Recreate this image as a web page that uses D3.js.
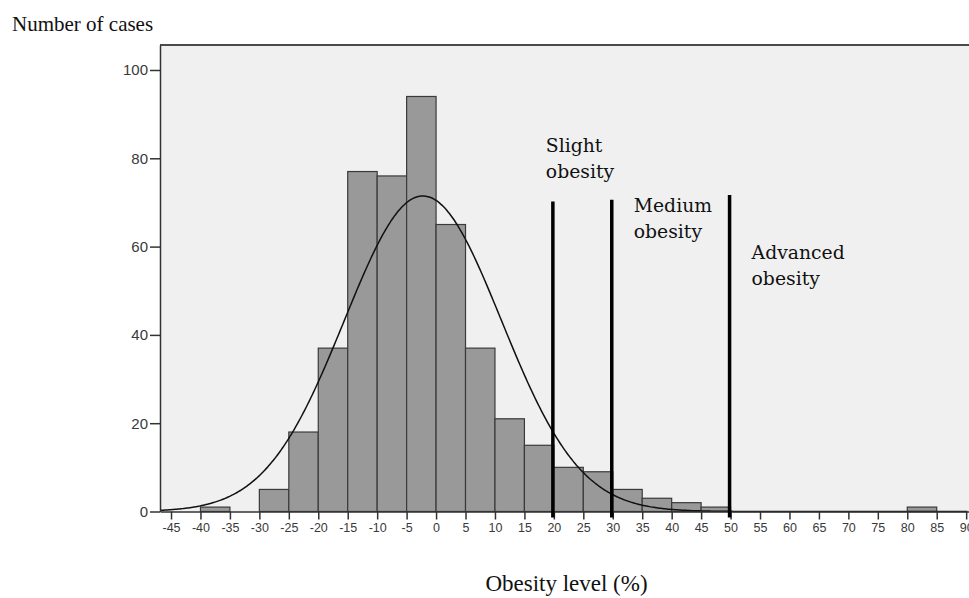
<!DOCTYPE html>
<html>
<head>
<meta charset="utf-8">
<script src="https://cdn.jsdelivr.net/npm/d3@7"></script>
<style>
  html, body { margin: 0; padding: 0; background: #ffffff; }
  svg { display: block; }
</style>
</head>
<body>
<svg id="chart" width="969" height="598"></svg>
<script>
// Histogram of obesity level (%) — bins are 5 points wide
const binStarts = [-40, -30, -25, -20, -15, -10, -5, 0, 5, 10, 15, 20, 25, 30, 35, 40, 45, 80];
const binCounts = [1, 5, 18, 37, 77, 76, 94, 65, 37, 21, 15, 10, 9, 5, 3, 2, 1, 1];
const binWidth = 5;

// Axis ticks
const xTicks = d3.range(-45, 91, 5);
const yTicks = [0, 20, 40, 60, 80, 100];

// Obesity thresholds and the height of each marker line
const thresholdValues = [20, 30, 50];
const thresholdTops = [70.2, 70.6, 71.7];
const thresholdLabels = [["Slight", "obesity"], ["Medium", "obesity"], ["Advanced", "obesity"]];

const yAxisTitle = "Number of cases";
const xAxisTitle = "Obesity level (%)";

const svg = d3.select("#chart");
const plot = { left: 160, right: 969, top: 45, bottom: 511.5 };

const x = d3.scaleLinear().domain([-46.87, 90.48]).range([plot.left, plot.right]);
const y = d3.scaleLinear().domain([0, 105.66]).range([plot.bottom, plot.top]);

// Plot background and top border
svg.append("rect")
  .attr("x", plot.left).attr("y", plot.top)
  .attr("width", plot.right - plot.left).attr("height", plot.bottom - plot.top)
  .attr("fill", "#f0f0f0");
svg.append("line")
  .attr("x1", plot.left).attr("x2", plot.right)
  .attr("y1", plot.top).attr("y2", plot.top)
  .attr("stroke", "#4a4a4a").attr("stroke-width", 2);

// Bars
const bins = binStarts.map((s, i) => ({ x0: s, x1: s + binWidth, n: binCounts[i] }));
svg.append("g").selectAll("rect").data(bins).join("rect")
  .attr("x", d => x(d.x0))
  .attr("y", d => y(d.n))
  .attr("width", d => x(d.x1) - x(d.x0))
  .attr("height", d => y(0) - y(d.n))
  .attr("fill", "#999999")
  .attr("stroke", "#3a3a3a")
  .attr("stroke-width", 1.2);

// Fitted normal curve from the binned counts
const total = d3.sum(binCounts);
const mean = d3.sum(bins, d => d.n * (d.x0 + binWidth / 2)) / total;
const sd = Math.sqrt(d3.sum(bins, d => d.n * Math.pow(d.x0 + binWidth / 2 - mean, 2)) / total);
const density = v => total * binWidth / (sd * Math.sqrt(2 * Math.PI)) * Math.exp(-0.5 * Math.pow((v - mean) / sd, 2));
const curvePts = d3.range(-46.8, 90.4, 0.25).map(v => [v, density(v)]);
svg.append("path")
  .datum(curvePts)
  .attr("fill", "none")
  .attr("stroke", "#111")
  .attr("stroke-width", 1.5)
  .attr("d", d3.line().x(d => x(d[0])).y(d => y(d[1])).curve(d3.curveBasis));

// Axes
const yAxis = d3.axisLeft(y).tickValues(yTicks).tickSize(10).tickSizeOuter(0).tickPadding(2)
  .tickFormat(d => String(d));
const gy = svg.append("g").attr("transform", `translate(${plot.left},0)`).call(yAxis);
gy.select(".domain").attr("stroke", "#333").attr("stroke-width", 1.5);
gy.selectAll(".tick line").attr("stroke", "#333").attr("stroke-width", 1.5);
gy.selectAll(".tick text").attr("fill", "#3a3a3a")
  .style("font-family", "'Liberation Sans', Arial, sans-serif").style("font-size", "15px");

const xAxis = d3.axisBottom(x).tickValues(xTicks).tickSize(8).tickSizeOuter(0).tickPadding(4)
  .tickFormat(d => String(d));
const gx = svg.append("g").attr("transform", `translate(0,${plot.bottom})`).call(xAxis);
gx.select(".domain").attr("stroke", "#333").attr("stroke-width", 1.5);
gx.selectAll(".tick line").attr("stroke", "#333").attr("stroke-width", 1.5);
gx.selectAll(".tick text").attr("fill", "#3a3a3a")
  .style("font-family", "'Liberation Sans', Arial, sans-serif").style("font-size", "12.5px");

// Threshold marker lines
svg.append("g").selectAll("line").data(thresholdValues).join("line")
  .attr("x1", d => x(d) - 1).attr("x2", d => x(d) - 1)
  .attr("y1", (d, i) => y(thresholdTops[i]))
  .attr("y2", y(0) + 6)
  .attr("stroke", "#000")
  .attr("stroke-width", 3.5);

// Threshold labels
const labelOffsets = [{ dx: -8, dy: -50 }, { dx: 21, dy: 12 }, { dx: 21, dy: 64 }];
const serif = "'DejaVu Serif', 'Liberation Serif', serif";
thresholdLabels.forEach((lines, i) => {
  const t = svg.append("text")
    .attr("x", x(thresholdValues[i]) + labelOffsets[i].dx)
    .attr("y", y(thresholdTops[i]) + labelOffsets[i].dy)
    .style("font-family", serif).style("font-size", "18.8px").attr("fill", "#111");
  lines.forEach((s, j) => {
    t.append("tspan").attr("x", x(thresholdValues[i]) + labelOffsets[i].dx)
      .attr("dy", j === 0 ? 0 : 26).text(s);
  });
});

// Axis titles
svg.append("text").attr("x", 12).attr("y", 31)
  .style("font-family", "'Liberation Serif', 'Times New Roman', serif").style("font-size", "21px")
  .attr("fill", "#111").text(yAxisTitle);
svg.append("text").attr("x", (plot.left + plot.right) / 2 + 2).attr("y", 591)
  .attr("text-anchor", "middle")
  .style("font-family", "'Liberation Serif', 'Times New Roman', serif").style("font-size", "23px")
  .attr("fill", "#111").text(xAxisTitle);
</script>
</body>
</html>
